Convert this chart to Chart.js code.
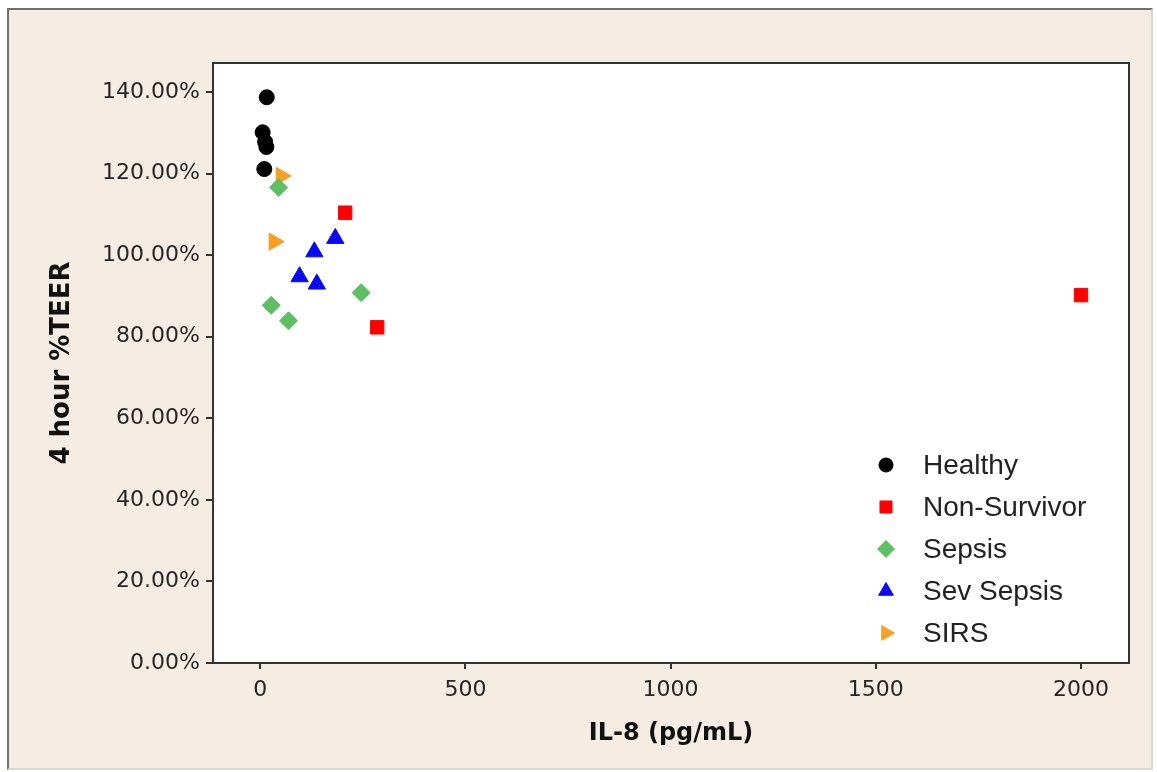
<!DOCTYPE html>
<html>
<head>
<meta charset="utf-8">
<script src="https://cdn.jsdelivr.net/npm/chart.js@4.4.1/dist/chart.umd.min.js"></script>
<style>
  body { margin: 0; background: #ffffff; }
  #frame {
    position: absolute; left: 7px; top: 8px; width: 1142px; height: 758px;
    background: #f5ede4;
    border-style: solid; border-width: 2px;
    border-color: #707070 #d8d8d0 #d8d8d0 #707070;
  }
  #wrap { position: absolute; left: 0; top: 0; width: 1157px; height: 772px; }
</style>
</head>
<body>
<div id="frame"></div>
<div id="wrap"><canvas id="myChart" width="1157" height="772"></canvas></div>
<script>
// IL-8 (pg/mL) vs 4 hour %TEER
const healthyX = [16, 6, 12, 15, 10];
const healthyY = [138.7, 130.1, 127.8, 126.5, 121.1];
const nonSurvivorX = [207, 285, 2000];
const nonSurvivorY = [110.4, 82.3, 90.2];
const sepsisX = [45, 27, 69, 246];
const sepsisY = [116.6, 87.7, 83.9, 90.8];
const sevSepsisX = [183, 132, 96, 138];
const sevSepsisY = [104.1, 100.8, 94.7, 92.9];
const sirsX = [51, 34];
const sirsY = [119.4, 103.3];

const xTicks = [0, 500, 1000, 1500, 2000];
const yTicks = [0, 20, 40, 60, 80, 100, 120, 140];

function pts(xs, ys) {
    return xs.map((x, i) => ({ x: x, y: ys[i] }));
}

const data = {
    datasets: [{
        label: 'Healthy',
        data: pts(healthyX, healthyY),
        pointStyle: 'circle',
        pointRadius: 7.5,
        backgroundColor: '#000000',
        borderColor: '#000000',
        legendRadius: 7
    }, {
        label: 'Non-Survivor',
        data: pts(nonSurvivorX, nonSurvivorY),
        pointStyle: 'rect',
        pointRadius: 9.5,
        backgroundColor: '#ff0000',
        borderColor: '#ff0000',
        legendRadius: 8.5
    }, {
        label: 'Sepsis',
        data: pts(sepsisX, sepsisY),
        pointStyle: 'rectRot',
        pointRadius: 9,
        backgroundColor: '#5fbf63',
        borderColor: '#5fbf63',
        legendRadius: 8.5
    }, {
        label: 'Sev Sepsis',
        data: pts(sevSepsisX, sevSepsisY),
        pointStyle: 'triangle',
        pointRadius: 10,
        backgroundColor: '#0a0af0',
        borderColor: '#0a0af0',
        legendRadius: 8.5
    }, {
        label: 'SIRS',
        data: pts(sirsX, sirsY),
        pointStyle: 'triangle',
        pointRotation: 90,
        pointRadius: 10,
        backgroundColor: '#f7a023',
        borderColor: '#f7a023',
        legendRadius: 8.5
    }]
};

// white plot area, box round it and the legend inside it
const plotBox = {
    id: 'plotBox',
    beforeDraw(chart) {
        const ctx = chart.ctx;
        const a = chart.chartArea;
        ctx.save();
        ctx.fillStyle = '#ffffff';
        ctx.fillRect(a.left, a.top, a.right - a.left, a.bottom - a.top);
        ctx.restore();
    },
    afterDraw(chart) {
        const ctx = chart.ctx;
        const a = chart.chartArea;
        ctx.save();
        ctx.strokeStyle = '#333333';
        ctx.lineWidth = 2;
        ctx.strokeRect(a.left, a.top, a.right - a.left, a.bottom - a.top);

        // legend
        ctx.font = '28px "Liberation Sans", Arial, sans-serif';
        ctx.textBaseline = 'middle';
        ctx.textAlign = 'left';
        chart.data.datasets.forEach((ds, i) => {
            const y = a.bottom - 198 + i * 42;
            const mx = a.right - 243;
            ctx.fillStyle = ds.backgroundColor;
            ctx.strokeStyle = ds.borderColor;
            ctx.lineWidth = 1;
            Chart.helpers.drawPoint(ctx, {
                pointStyle: ds.pointStyle,
                rotation: ds.pointRotation || 0,
                radius: ds.legendRadius,
                borderWidth: 1
            }, mx, y);
            ctx.fillStyle = '#222222';
            ctx.fillText(ds.label, a.right - 206, y + 1);
        });
        ctx.restore();
    }
};

const config = {
    type: 'scatter',
    data: data,
    options: {
        responsive: false,
        animation: false,
        layout: {
            padding: { left: 0, top: 63, right: 28, bottom: 0 }
        },
        scales: {
            x: {
                type: 'linear',
                min: -115,
                max: 2117,
                afterBuildTicks: (scale) => {
                    scale.ticks = xTicks.map(v => ({ value: v }));
                },
                afterFit: (scale) => { scale.height = 109; },
                grid: {
                    drawOnChartArea: false,
                    drawTicks: true,
                    tickLength: 6,
                    color: '#333333',
                    lineWidth: 2
                },
                border: { display: false },
                ticks: {
                    padding: 8,
                    color: '#262626',
                    font: { family: '"DejaVu Sans", Verdana, sans-serif', size: 22 },
                    callback: (v) => String(v)
                },
                title: {
                    display: true,
                    text: 'IL-8 (pg/mL)',
                    color: '#111111',
                    font: { family: '"DejaVu Sans", Verdana, sans-serif', size: 24, weight: 'bold' },
                    padding: { top: 0, bottom: 24 }
                }
            },
            y: {
                type: 'linear',
                min: 0,
                max: 147.1,
                afterBuildTicks: (scale) => {
                    scale.ticks = yTicks.map(v => ({ value: v }));
                },
                afterFit: (scale) => { scale.width = 213; },
                grid: {
                    drawOnChartArea: false,
                    drawTicks: true,
                    tickLength: 7,
                    color: '#333333',
                    lineWidth: 2
                },
                border: { display: false },
                ticks: {
                    padding: 6,
                    color: '#262626',
                    font: { family: '"DejaVu Sans", Verdana, sans-serif', size: 22 },
                    callback: (v) => v.toFixed(2) + '%'
                },
                title: {
                    display: true,
                    text: '4 hour %TEER',
                    color: '#111111',
                    font: { family: '"DejaVu Sans", Verdana, sans-serif', size: 26, weight: 'bold' },
                    padding: { top: 47, bottom: 0 }
                }
            }
        },
        plugins: {
            legend: { display: false },
            tooltip: { enabled: false }
        }
    },
    plugins: [plotBox]
};

var myChart = new Chart(document.getElementById('myChart'), config);
</script>
</body>
</html>
